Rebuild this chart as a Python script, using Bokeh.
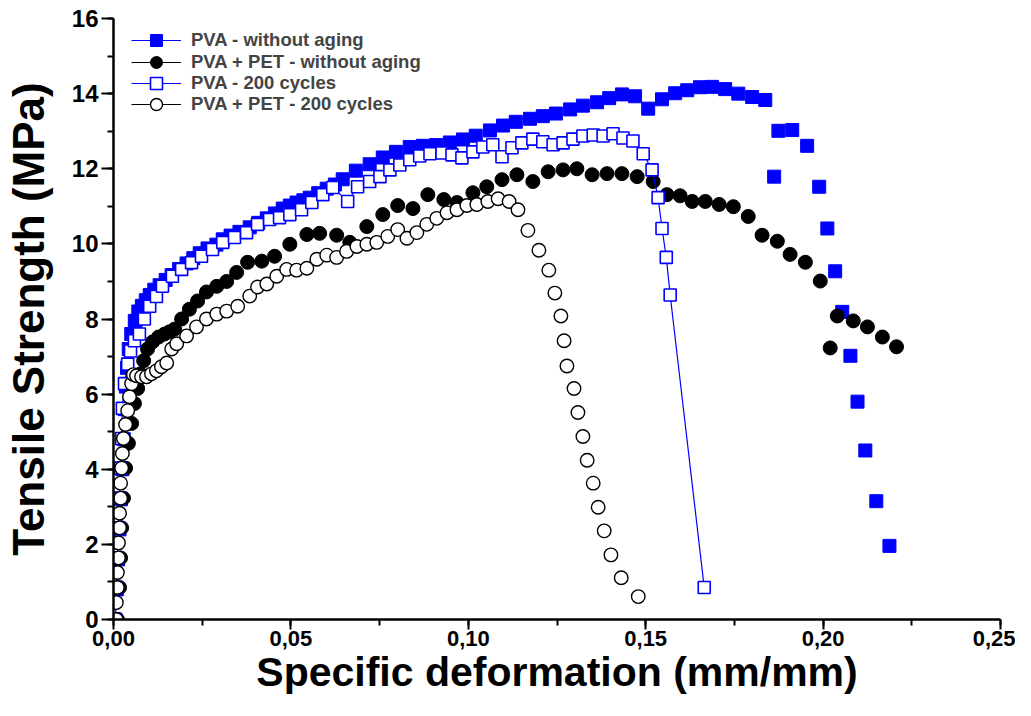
from bokeh.plotting import figure
from bokeh.models import Range1d, SingleIntervalTicker, CustomJSTickFormatter, Legend, LegendItem
from bokeh.embed import file_html
from bokeh.resources import INLINE

# ---- data ----
pva_x = [0.0005, 0.0009, 0.0013, 0.0017, 0.0021, 0.0025, 0.0029, 0.0032, 0.0035, 0.0038,
         0.0043, 0.0050, 0.0060, 0.0070, 0.0080, 0.0091, 0.0102, 0.0115, 0.0130, 0.0147,
         0.0164, 0.0185, 0.0206, 0.0225, 0.0243, 0.0265, 0.0290, 0.0308, 0.0330, 0.0355,
         0.0384, 0.0408, 0.0432, 0.0455, 0.0477, 0.0497, 0.0516, 0.0535, 0.0553, 0.0577,
         0.0601, 0.0624, 0.0646, 0.0683, 0.0722, 0.0759, 0.0796, 0.0835, 0.0872, 0.0909,
         0.0948, 0.0985, 0.1021, 0.1061, 0.1098, 0.1134, 0.1174, 0.1210, 0.1247, 0.1287,
         0.1323, 0.1363, 0.1397, 0.1433, 0.1470, 0.1507, 0.1546, 0.1583, 0.1617, 0.1653,
         0.1687, 0.1724, 0.1761, 0.1800, 0.1837, 0.1862, 0.1874, 0.1913, 0.1955, 0.1989,
         0.2012, 0.2034, 0.2054, 0.2077, 0.2097, 0.2119, 0.2150, 0.2187]
pva_y = [0.0, 0.8, 1.6, 2.4, 3.2, 4.0, 4.8, 5.6, 6.2, 6.7,
         7.2, 7.6, 7.95, 8.2, 8.35, 8.5, 8.64, 8.78, 8.9, 9.04,
         9.17, 9.33, 9.48, 9.62, 9.75, 9.88, 9.98, 10.12, 10.22, 10.32,
         10.44, 10.56, 10.68, 10.81, 10.94, 11.02, 11.10, 11.16, 11.23, 11.35,
         11.47, 11.58, 11.72, 11.95, 12.12, 12.30, 12.45, 12.58, 12.61, 12.63,
         12.70, 12.78, 12.88, 13.02, 13.15, 13.25, 13.33, 13.40, 13.47, 13.58,
         13.68, 13.77, 13.88, 13.98, 13.93, 13.60, 13.85, 14.01, 14.09, 14.17,
         14.18, 14.12, 14.00, 13.91, 13.83, 11.79, 13.01, 13.03, 12.61, 11.52,
         10.41, 9.27, 8.19, 7.02, 5.80, 4.50, 3.15, 1.96]

pet_x = [0.0011, 0.0017, 0.0020, 0.0023, 0.0028, 0.0034, 0.0042, 0.0051, 0.0059, 0.0068,
         0.0076, 0.0085, 0.0096, 0.0110, 0.0127, 0.0144, 0.0158, 0.0172, 0.0192, 0.0214,
         0.0237, 0.0262, 0.0291, 0.0319, 0.0347, 0.0378, 0.0418, 0.0454, 0.0497, 0.0545,
         0.0581, 0.0629, 0.0666, 0.0714, 0.0759, 0.0801, 0.0844, 0.0886, 0.0931, 0.0968,
         0.1013, 0.1052, 0.1095, 0.1137, 0.1182, 0.1225, 0.1267, 0.1306, 0.1349, 0.1391,
         0.1433, 0.1476, 0.1521, 0.1560, 0.1597, 0.1631, 0.1668, 0.1707, 0.1747, 0.1789,
         0.1828, 0.1871, 0.1907, 0.1950, 0.1992, 0.2020, 0.2040, 0.2085, 0.2125, 0.2167,
         0.2207]
pet_y = [0.0, 0.85, 1.64, 2.44, 3.23, 4.03, 4.69, 5.22, 5.75, 6.15,
         6.54, 6.89, 7.20, 7.39, 7.52, 7.60, 7.66, 7.73, 8.00, 8.26,
         8.48, 8.72, 8.87, 9.00, 9.24, 9.51, 9.54, 9.67, 9.99, 10.25,
         10.28, 10.23, 10.04, 10.46, 10.78, 11.02, 10.94, 11.31, 11.18, 11.10,
         11.36, 11.52, 11.71, 11.84, 11.66, 11.92, 11.97, 12.00, 11.84, 11.87,
         11.87, 11.79, 11.66, 11.31, 11.28, 11.13, 11.13, 11.05, 10.99, 10.73,
         10.23, 10.07, 9.72, 9.51, 9.01, 7.23, 8.08, 7.95, 7.79, 7.52,
         7.26]

pva200_x = [0.0006, 0.0008, 0.0011, 0.0014, 0.0017, 0.0020, 0.0023, 0.0025, 0.0031, 0.0040,
            0.0048, 0.0059, 0.0073, 0.0087, 0.0102, 0.0121, 0.0138, 0.0166, 0.0192, 0.0220,
            0.0248, 0.0279, 0.0308, 0.0341, 0.0375, 0.0406, 0.0440, 0.0468, 0.0497, 0.0530,
            0.0559, 0.0590, 0.0618, 0.0660, 0.0688, 0.0722, 0.0751, 0.0779, 0.0807, 0.0835,
            0.0863, 0.0892, 0.0926, 0.0954, 0.0982, 0.1013, 0.1041, 0.1069, 0.1095, 0.1123,
            0.1151, 0.1182, 0.1210, 0.1239, 0.1267, 0.1295, 0.1323, 0.1352, 0.1380, 0.1408,
            0.1436, 0.1464, 0.1493, 0.1518, 0.1535, 0.1546, 0.1558, 0.1569, 0.1665]
pva200_y = [0.0, 0.85, 1.64, 2.44, 3.23, 4.03, 4.82, 5.62, 6.28, 6.80,
            7.15, 7.42, 7.60, 8.00, 8.34, 8.60, 8.87, 9.14, 9.32, 9.50,
            9.67, 9.85, 10.04, 10.17, 10.30, 10.52, 10.65, 10.70, 10.78, 10.91,
            11.10, 11.31, 11.50, 11.13, 11.52, 11.66, 11.79, 11.97, 12.10, 12.24,
            12.34, 12.40, 12.42, 12.37, 12.29, 12.45, 12.58, 12.64, 12.32, 12.56,
            12.69, 12.79, 12.72, 12.64, 12.69, 12.79, 12.87, 12.90, 12.87, 12.93,
            12.82, 12.74, 12.40, 11.97, 11.23, 10.41, 9.64, 8.64, 0.85]

pet200_x = [0.0008, 0.0008, 0.0011, 0.0011, 0.0014, 0.0014, 0.0017, 0.0017, 0.0020, 0.0020,
            0.0023, 0.0025, 0.0028, 0.0034, 0.0040, 0.0045, 0.0051, 0.0056, 0.0065, 0.0079,
            0.0093, 0.0107, 0.0121, 0.0135, 0.0150, 0.0164, 0.0178, 0.0206, 0.0234, 0.0262,
            0.0291, 0.0319, 0.0350, 0.0384, 0.0406, 0.0432, 0.0460, 0.0488, 0.0516, 0.0545,
            0.0573, 0.0601, 0.0629, 0.0657, 0.0686, 0.0714, 0.0742, 0.0773, 0.0801, 0.0827,
            0.0855, 0.0883, 0.0911, 0.0940, 0.0968, 0.0996, 0.1024, 0.1055, 0.1084, 0.1115,
            0.1140, 0.1168, 0.1199, 0.1227, 0.1244, 0.1261, 0.1270, 0.1278, 0.1298, 0.1309,
            0.1323, 0.1335, 0.1352, 0.1366, 0.1383, 0.1402, 0.1431, 0.1479]
pet200_y = [0.0, 0.45, 0.85, 1.25, 1.64, 2.04, 2.44, 2.83, 3.23, 3.63,
            4.03, 4.42, 4.82, 5.19, 5.56, 5.93, 6.28, 6.52, 6.49, 6.46,
            6.46, 6.54, 6.62, 6.73, 6.83, 7.20, 7.34, 7.55, 7.79, 8.00,
            8.13, 8.21, 8.34, 8.61, 8.85, 8.93, 9.14, 9.32, 9.30, 9.35,
            9.59, 9.70, 9.64, 9.80, 9.93, 9.99, 10.04, 10.20, 10.38, 10.15,
            10.30, 10.52, 10.68, 10.83, 10.91, 11.02, 11.05, 11.13, 11.20, 11.13,
            10.91, 10.36, 9.83, 9.30, 8.69, 8.08, 7.42, 6.75, 6.15, 5.51,
            4.87, 4.24, 3.63, 2.99, 2.36, 1.72, 1.11, 0.61]

labels = ["PVA - without aging", "PVA + PET - without aging",
          "PVA - 200 cycles", "PVA + PET - 200 cycles"]
x_ticks_interval = 0.05
y_ticks_interval = 2

BLUE = "#0000ff"
FONT = "Liberation Sans"

W, H = 1015, 700
BL, BR, BT, BB = 113, 15, 18, 81

p = figure(width=W, height=H, output_backend="svg", toolbar_location=None,
           x_range=Range1d(0, 0.25), y_range=Range1d(0, 16),
           min_border_left=BL, min_border_right=BR, min_border_top=BT, min_border_bottom=BB)
p.outline_line_color = None
p.grid.visible = False
p.background_fill_color = "white"

# legend-only line glyphs (the connecting lines are hidden by markers in the reference)
l1 = p.line(pva_x, pva_y, line_color=BLUE, line_width=1, visible=False)
s1 = p.scatter(pva_x, pva_y, marker="square", size=13, fill_color=BLUE, line_color=BLUE, line_width=1)
l2 = p.line(pet_x, pet_y, line_color="black", line_width=1, visible=False)
s2 = p.scatter(pet_x, pet_y, marker="circle", size=14, fill_color="black", line_color="black", line_width=1)
l3 = p.line(pva200_x, pva200_y, line_color=BLUE, line_width=1.2)
s3 = p.scatter(pva200_x, pva200_y, marker="square", size=12, fill_color="white", line_color=BLUE, line_width=1.6)
l4 = p.line(pet200_x, pet200_y, line_color="black", line_width=1, visible=False)
s4 = p.scatter(pet200_x, pet200_y, marker="circle", size=13.5, fill_color="white", line_color="black", line_width=1.4)

# one small legend per entry so that the rows can sit closer than the glyph box height
frame_h = H - BT - BB
GH = 30
row_pitch = 21.5
first_row_top = 7
for i, (lab, rs) in enumerate(zip(labels, [[l1, s1], [l2, s2], [l3, s3], [l4, s4]])):
    top = first_row_top + i * row_pitch
    lg = Legend(items=[LegendItem(label=lab, renderers=rs)],
                location=(18, int(round(frame_h - top - GH))),
                glyph_width=50, glyph_height=GH, label_height=GH,
                spacing=0, padding=0, margin=0, label_standoff=10,
                background_fill_alpha=0, border_line_color=None,
                label_text_font=FONT, label_text_font_style="bold", label_text_font_size="18.5px")
    p.add_layout(lg)

p.xaxis.ticker = SingleIntervalTicker(interval=x_ticks_interval, num_minor_ticks=2)
p.yaxis.ticker = SingleIntervalTicker(interval=y_ticks_interval, num_minor_ticks=2)
p.xaxis.formatter = CustomJSTickFormatter(code="return tick.toFixed(2).replace('.', ',');")
p.yaxis.formatter = CustomJSTickFormatter(code="return tick.toFixed(0);")

p.xaxis.axis_label = "Specific deformation (mm/mm)"
p.yaxis.axis_label = "Tensile Strength (MPa)"

for ax in (p.xaxis, p.yaxis):
    ax.axis_line_width = 2.5
    ax.axis_line_color = "black"
    ax.major_tick_line_width = 2
    ax.minor_tick_line_width = 2
    ax.major_tick_line_color = "black"
    ax.minor_tick_line_color = "black"
    ax.major_tick_in = 0
    ax.minor_tick_in = 0
    ax.axis_label_text_font = FONT
    ax.axis_label_text_font_style = "bold"
    ax.axis_label_text_color = "black"
    ax.major_label_text_font = FONT
    ax.major_label_text_font_style = "bold"
    ax.major_label_text_color = "black"

p.xaxis.major_tick_out = 10
p.xaxis.minor_tick_out = 6
p.xaxis.major_label_standoff = 1
p.xaxis.major_label_text_font_size = "22px"
p.xaxis.axis_label_text_font_size = "41px"
p.xaxis.axis_label_standoff = 0

p.yaxis.major_tick_out = 12
p.yaxis.minor_tick_out = 6
p.yaxis.major_label_standoff = 3
p.yaxis.major_label_text_font_size = "24px"
p.yaxis.axis_label_text_font_size = "44px"
p.yaxis.axis_label_standoff = 16

open("out.html", "w").write(file_html(p, INLINE))
